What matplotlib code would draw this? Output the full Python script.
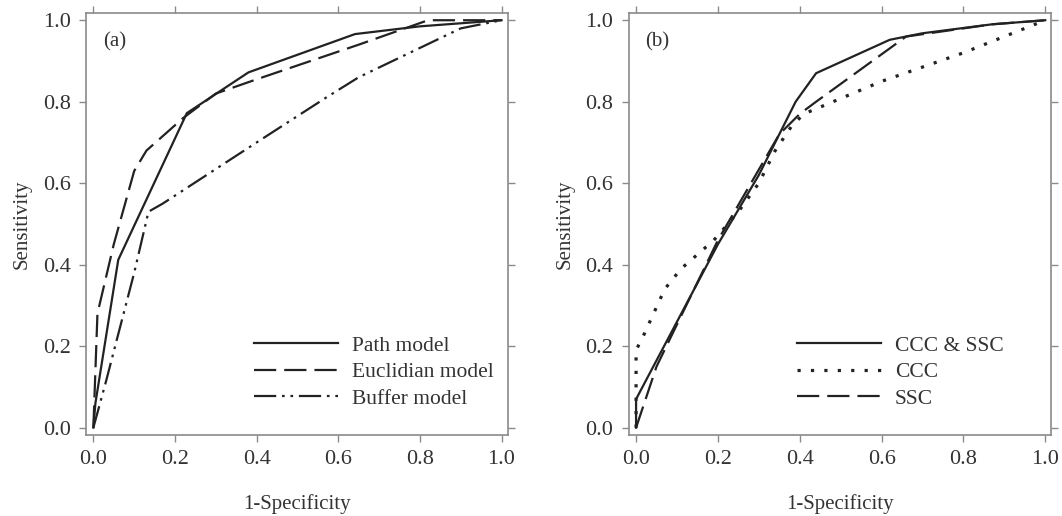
import matplotlib
matplotlib.use("Agg")
import matplotlib.pyplot as plt

# ---- panel (a): ROC curves of the three models ----
path_x = [0.0, 0.005, 0.061, 0.229, 0.380, 0.641, 0.80, 1.0]
path_y = [0.0, 0.06, 0.412, 0.772, 0.872, 0.966, 0.985, 1.0]

eucl_x = [0.0, 0.01, 0.05, 0.10, 0.13, 0.22, 0.30, 0.40, 0.65, 0.82, 1.0]
eucl_y = [0.0, 0.28, 0.45, 0.63, 0.68, 0.76, 0.82, 0.855, 0.94, 1.0, 1.0]

buff_x = [0.0, 0.03, 0.10, 0.135, 0.17, 0.40, 0.57, 0.65, 0.90, 1.0]
buff_y = [0.0, 0.11, 0.38, 0.53, 0.55, 0.70, 0.81, 0.86, 0.98, 1.0]

# ---- panel (b): ROC curves of the variable sets ----
both_x = [0.0, 0.0, 0.20, 0.30, 0.35, 0.39, 0.44, 0.62, 0.70, 0.87, 1.0]
both_y = [0.0, 0.07, 0.45, 0.62, 0.72, 0.80, 0.87, 0.952, 0.968, 0.99, 1.0]

ccc_x = [0.0, 0.0, 0.02, 0.07, 0.11, 0.19, 0.25, 0.30, 0.34, 0.38, 0.41, 0.60, 0.80, 1.0]
ccc_y = [0.0, 0.19, 0.23, 0.34, 0.39, 0.46, 0.53, 0.60, 0.68, 0.74, 0.77, 0.85, 0.92, 1.0]

ssc_x = [0.0, 0.01, 0.05, 0.20, 0.35, 0.40, 0.44, 0.66, 0.87, 1.0]
ssc_y = [0.0, 0.03, 0.15, 0.46, 0.72, 0.77, 0.80, 0.96, 0.99, 1.0]

ticks = [0.0, 0.2, 0.4, 0.6, 0.8, 1.0]
tick_labels = ["0.0", "0.2", "0.4", "0.6", "0.8", "1.0"]

plt.rcParams['font.family'] = ['Liberation Serif', 'DejaVu Serif']

line_col = '#222222'
text_col = '#333333'
frame_col = '#8a8a8a'

fig = plt.figure(figsize=(10.62, 5.16), dpi=100)
ax_a = fig.add_axes([0.081, 0.157, 0.397, 0.818])
ax_b = fig.add_axes([0.592, 0.157, 0.398, 0.818])

lw = 1.6
dash = (0, (10, 3.6))
ax_a.plot(path_x, path_y, color=line_col, lw=lw, label='Path model')
ax_a.plot(eucl_x, eucl_y, color=line_col, lw=lw, linestyle=dash,
          label='Euclidian model')
ax_a.plot(buff_x, buff_y, color=line_col, lw=lw,
          linestyle=(0, (10, 2.6, 1.2, 2.6, 1.2, 2.6)), label='Buffer model')

ax_b.plot(both_x, both_y, color=line_col, lw=lw, label='CCC & SSC')
ax_b.plot(ccc_x, ccc_y, color=line_col, lw=2.3, linestyle=(0, (1.0, 3.2)),
          label='CCC')
ax_b.plot(ssc_x, ssc_y, color=line_col, lw=lw, linestyle=dash, label='SSC')

for ax, tag in [(ax_a, '(a)'), (ax_b, '(b)')]:
    ax.set_xlim(-0.018, 1.015)
    ax.set_ylim(-0.018, 1.018)
    ax.set_xticks(ticks)
    ax.set_xticklabels(tick_labels)
    ax.set_yticks(ticks)
    ax.set_yticklabels(tick_labels)
    ax.tick_params(axis='both', direction='out', length=5, width=1,
                   color=frame_col, labelcolor=text_col, labelsize=16,
                   top=True, right=True, pad=6)
    for s in ax.spines.values():
        s.set_color(frame_col)
        s.set_linewidth(1.2)
    ax.set_xlabel('1-Specificity', color=text_col, fontsize=15, labelpad=18)
    ax.set_ylabel('Sensitivity', color=text_col, fontsize=15, labelpad=8)
    ax.text(0.04, 0.92, tag, transform=ax.transAxes, color=text_col, fontsize=15)
    leg = ax.legend(loc='lower left', bbox_to_anchor=(0.398, 0.062), frameon=False,
                    handlelength=3.9, handletextpad=0.65, labelspacing=0.3,
                    fontsize=15.5, borderaxespad=0, borderpad=0)
    for t in leg.get_texts():
        t.set_color(text_col)

fig.savefig('out.png', dpi=100)
